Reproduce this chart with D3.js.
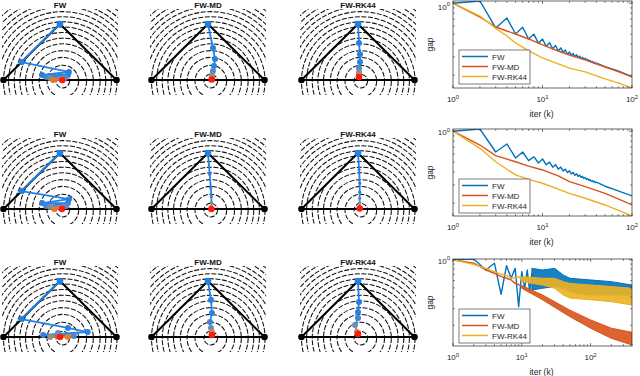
<!DOCTYPE html>
<html><head><meta charset="utf-8">
<script src="https://cdn.jsdelivr.net/npm/d3@7"></script>
<style>body{margin:0;background:#fff;} svg{display:block;font-family:"Liberation Sans",Arial,sans-serif;}</style>
</head><body><svg id="c" width="640" height="376"></svg>
<script>
// ---------------- DATA ----------------
const methods = ["FW", "FW-MD", "FW-RK44"];
const methodColors = ["#0072BD", "#D95319", "#EDB120"];

// simplex (triangle) and contour levels (radii, in units of half the base)
const simplexVertices = [[-1, 0], [0, 1], [1, 0]];
const contourCenter = [0.05, -0.02];
const contourLevels = [0.12, 0.28, 0.42, 0.54, 0.66, 0.76, 0.86, 0.96, 1.05, 1.14, 1.23, 1.32, 1.4, 1.49, 1.58, 1.67];

// trajectories (x in [-1,1], y in [0,1]) per row
const trajFW_1 = [[0,1],[-0.684,0.321],[0.158,0.143],[-0.316,0.089],[0.14,0.089],[-0.246,0.054],[0.088,0.036],[-0.175,0.036],[0.035,0.018],[-0.123,0],[0.04,0]];
const trajMD_1 = [[0,1],[0.088,0.571],[0.124,0.375],[0.106,0.25],[0.088,0.16],[0.07,0.09],[0.07,0.036],[0.065,0.01]];
const trajRK_1 = [[0,1],[0.018,0.66],[0.035,0.46],[0.035,0.32],[0.018,0.21],[0.018,0.14],[0.018,0.09],[0.018,0.054]];
const trajFW_2 = [[0,1],[-0.684,0.32],[0.158,0.175],[-0.316,0.105],[0.14,0.105],[-0.246,0.053],[0.105,0.053],[-0.175,0.035],[0,0.018],[-0.105,0],[0.035,0]];
const trajMD_2 = [[0,1],[0.03,0.62],[0.05,0.38],[0.06,0.22],[0.06,0.12],[0.06,0.05],[0.06,0]];
const trajRK_2 = [[0,1],[0.02,0.7],[0.03,0.46],[0.03,0.3],[0.03,0.19],[0.03,0.11],[0.03,0.05],[0.03,0.01]];
const trajFW_3 = [[0,1],[-0.684,0.321],[0.14,0.161],[0.49,0.089],[-0.298,0.036],[0.245,0.018],[-0.035,0.071],[-0.175,0],[0.14,0],[0,0]];
const trajMD_3 = [[0,1],[0.053,0.66],[0.07,0.43],[0.035,0.27],[0.053,0.16],[0.07,0.09],[0.07,0.035]];
const trajRK_3 = [[0,1],[0.018,0.625],[0,0.446],[0,0.34],[-0.053,0.214],[-0.018,0.089],[0,0.054]];

// gap curves, row 1
const iterTopFW = [1,2,3,4,5,6,7,8,9,10,11,12,13,14,15,16,17,18,19,20,21,22,23,24,25,26,27,28,29,30,31,32,33,34,35,36,37,38,39,40,50,70,100];
const gapTopFW = [1.0,1.05,0.575,0.718,0.502,0.584,0.449,0.500,0.409,0.449,0.381,0.413,0.360,0.388,0.343,0.368,0.331,0.351,0.319,0.336,0.310,0.325,0.302,0.315,0.296,0.306,0.289,0.298,0.283,0.292,0.278,0.2845,0.273,0.278,0.268,0.272,0.263,0.267,0.259,0.262,0.242,0.220,0.193];
const iterTopMD = [1,2,3,4,5,7,10,15,20,30,50,70,100];
const gapTopMD = [1.0,0.734,0.587,0.537,0.502,0.449,0.393,0.343,0.314,0.281,0.240,0.217,0.192];
const iterTopRK = [1,2,3,4,5,7,10,15,20,30,50,70,100];
const gapTopRK = [1.0,0.75,0.57,0.48,0.411,0.344,0.294,0.257,0.234,0.215,0.184,0.168,0.150];

// gap curves, row 2
const iterMidFW = [1,2,3,4,5,6,7,8,9,10,11,12,13,14,15,16,17,18,19,20,21,22,23,24,25,26,27,28,29,30,31,32,33,34,35,36,37,38,39,40,50,70,100];
const gapMidFW = [1.0,1.05,0.628,0.751,0.549,0.628,0.517,0.565,0.491,0.537,0.472,0.501,0.447,0.473,0.428,0.448,0.411,0.428,0.396,0.412,0.384,0.398,0.373,0.385,0.364,0.374,0.355,0.364,0.347,0.355,0.340,0.346,0.333,0.339,0.327,0.332,0.321,0.326,0.316,0.320,0.292,0.263,0.235];
const iterMidMD = [1,2,3,5,7,10,15,20,30,50,70,100];
const gapMidMD = [1.0,0.734,0.578,0.505,0.458,0.420,0.368,0.323,0.289,0.249,0.220,0.192];
const iterMidRK = [1,2,3,5,7,10,20,30,50,100];
const gapMidRK = [1.0,0.682,0.505,0.376,0.340,0.312,0.249,0.223,0.192,0.150];

// gap curves, row 3 (early iterations as lines, later oscillation as bands)
const iterBotFW = [1,2,3,4,5,6,7,8,9,10,11,12,13,14];
const gapBotFW = [1.0,1.02,0.778,0.92,0.428,0.865,0.635,0.81,0.315,0.747,0.496,0.778,0.457,0.718];
const bandBotFWk = [14,20,30,40,50,100,200,400];
const bandBotFWhi = [0.81,0.778,0.81,0.688,0.635,0.609,0.584,0.538];
const bandBotFWlo = [0.476,0.496,0.518,0.496,0.457,0.421,0.421,0.421];
const iterBotMD = [1,2,3,4,5,6,7,8,9,10];
const gapBotMD = [1.0,0.92,0.778,0.718,0.66,0.635,0.609,0.56,0.545,0.518];
const bandBotMDk = [10,20,50,100,200,400];
const bandBotMDhi = [0.53,0.421,0.29,0.228,0.186,0.168];
const bandBotMDlo = [0.496,0.374,0.247,0.186,0.145,0.123];
const iterBotRK = [1,2,3,4,5,6,7,8,9,10];
const gapBotRK = [1.0,0.893,0.81,0.747,0.70,0.678,0.645,0.635,0.66,0.62];
const bandBotRKk = [10,20,30,40,50,100,200,400];
const bandBotRKhi = [0.66,0.635,0.635,0.584,0.56,0.538,0.518,0.496];
const bandBotRKlo = [0.584,0.538,0.496,0.421,0.39,0.374,0.357,0.329];

const xTickExps = ["0", "1", "2"];

// ---------------- DRAW ----------------
const svg = d3.select("#c");
const defs = svg.append("defs");
const ink = "#262626";

const trajectories = [
  [trajFW_1, trajMD_1, trajRK_1],
  [trajFW_2, trajMD_2, trajRK_2],
  [trajFW_3, trajMD_3, trajRK_3]
];
const panelCx = [60, 208, 358];
const rowBase = [80, 209, 337];
const iterColor = d3.scaleLinear().domain([0, 0.42, 0.7, 0.88, 1])
  .range(["#1f80e8", "#2a82e0", "#7090b0", "#e8862a", "#ff1a0a"]);

trajectories.forEach((row, r) => {
  row.forEach((traj, c) => {
    const cx = panelCx[c], base = rowBase[r];
    const x = d3.scaleLinear().domain([-1, 1]).range([cx - 56.5, cx + 56.5]);
    const y = d3.scaleLinear().domain([0, 1]).range([base, base - 56]);
    const id = "clip" + r + c;
    defs.append("clipPath").attr("id", id).append("rect")
      .attr("x", cx - 58).attr("y", base - 71).attr("width", 116).attr("height", 86);
    const g = svg.append("g");
    g.append("g").attr("clip-path", "url(#" + id + ")")
      .selectAll("circle").data(contourLevels).join("circle")
      .attr("cx", x(contourCenter[0])).attr("cy", y(contourCenter[1]))
      .attr("r", d => x(d) - x(0))
      .attr("fill", "none").attr("stroke", "#111").attr("stroke-width", 1.05)
      .attr("stroke-dasharray", "5,1.6");
    g.append("path")
      .attr("d", d3.line().x(d => x(d[0])).y(d => y(d[1]))(simplexVertices) + "Z")
      .attr("fill", "none").attr("stroke", "#000").attr("stroke-width", 2);
    g.selectAll("circle.v").data([simplexVertices[0], simplexVertices[2]]).join("circle")
      .attr("class", "v").attr("cx", d => x(d[0])).attr("cy", d => y(d[1])).attr("r", 3.3).attr("fill", "#000");
    const n = traj.length;
    const thin = r === 1 && c > 0;
    for (let i = 0; i < n - 1; i++) {
      g.append("line")
        .attr("x1", x(traj[i][0])).attr("y1", y(traj[i][1]))
        .attr("x2", x(traj[i + 1][0])).attr("y2", y(traj[i + 1][1]))
        .attr("stroke", iterColor(i / (n - 1))).attr("stroke-width", 1.8);
    }
    traj.forEach((p, i) => {
      const rad = (i === 0 || i === n - 1) ? 3.3 : (thin ? 1.6 : 3.0);
      g.append("circle").attr("cx", x(p[0])).attr("cy", y(p[1]))
        .attr("r", rad).attr("fill", iterColor(i / (n - 1)));
    });
    g.append("text").attr("x", x(0)).attr("y", base - 72)
      .attr("text-anchor", "middle").attr("font-size", 8).attr("font-weight", "bold")
      .attr("fill", "#111").text(methods[c]);
  });
});

function powLabel(g, px, py, exp, anchor) {
  const t = g.append("text").attr("x", px).attr("y", py).attr("text-anchor", anchor)
    .attr("font-size", 8).attr("fill", ink);
  t.append("tspan").text("10");
  t.append("tspan").attr("dy", -3.5).attr("font-size", 6).text(exp);
}

function gapPanel(cfg) {
  const L = 453, R = 632, T = cfg.top, B = cfg.bottom;
  const x = d3.scaleLog().domain([1, cfg.kMax]).range([L, R]);
  const y = d3.scaleLog().domain(cfg.yDomain).range([B, T]);
  const g = svg.append("g");
  const id = "gclip" + T;
  defs.append("clipPath").attr("id", id).append("rect")
    .attr("x", L).attr("y", T).attr("width", R - L).attr("height", B - T);
  const pg = g.append("g").attr("clip-path", "url(#" + id + ")");
  const line = d3.line().x(d => x(d[0])).y(d => y(d[1]));
  const area = d3.area().x(d => x(d[0])).y0(d => y(d[2])).y1(d => y(d[1]));
  cfg.series.forEach((s, i) => {
    if (s.band) {
      pg.append("path").attr("d", area(d3.zip(s.band[0], s.band[1], s.band[2])))
        .attr("fill", methodColors[i]).attr("fill-opacity", 0.9)
        .attr("stroke", methodColors[i]).attr("stroke-width", 1);
    }
    pg.append("path").attr("d", line(d3.zip(s.k, s.v)))
      .attr("fill", "none").attr("stroke", methodColors[i]).attr("stroke-width", 1.4)
      .attr("stroke-linejoin", "round");
  });
  g.append("rect").attr("x", L).attr("y", T).attr("width", R - L).attr("height", B - T)
    .attr("fill", "none").attr("stroke", ink).attr("stroke-width", 0.7);
  const xt = x.ticks().filter(d => d <= cfg.kMax);
  xt.forEach(d => {
    const major = Math.abs(Math.log10(d) - Math.round(Math.log10(d))) < 1e-9;
    const len = major ? 3 : 1.8;
    g.append("line").attr("x1", x(d)).attr("x2", x(d)).attr("y1", B).attr("y2", B - len).attr("stroke", ink).attr("stroke-width", 0.6);
    g.append("line").attr("x1", x(d)).attr("x2", x(d)).attr("y1", T).attr("y2", T + len).attr("stroke", ink).attr("stroke-width", 0.6);
  });
  [1, 10, 100].forEach((d, i) => powLabel(g, x(d), B + 14, xTickExps[i], "middle"));
  y.ticks().forEach(d => {
    const major = Math.abs(d - 1) < 1e-9;
    const len = major ? 3 : 1.8;
    g.append("line").attr("x1", L).attr("x2", L + len).attr("y1", y(d)).attr("y2", y(d)).attr("stroke", ink).attr("stroke-width", 0.6);
    g.append("line").attr("x1", R).attr("x2", R - len).attr("y1", y(d)).attr("y2", y(d)).attr("stroke", ink).attr("stroke-width", 0.6);
  });
  powLabel(g, L - 3, Math.max(y(1) + 4, 9.5), "0", "end");
  g.append("text").attr("x", (L + R) / 2 - 1).attr("y", B + 29).attr("text-anchor", "middle")
    .attr("font-size", 8.5).attr("fill", ink).text("iter (k)");
  g.append("text").attr("transform", "translate(433," + ((T + B) / 2) + ") rotate(-90)")
    .attr("text-anchor", "middle").attr("font-size", 8.5).attr("fill", ink).text("gap");
  const lt = cfg.legendTop;
  g.append("rect").attr("x", 459).attr("y", lt).attr("width", 71).attr("height", 34)
    .attr("fill", "#fff").attr("stroke", ink).attr("stroke-width", 0.6);
  methods.forEach((m, i) => {
    const yy = lt + 6.5 + i * 10;
    g.append("line").attr("x1", 462).attr("x2", 488).attr("y1", yy).attr("y2", yy)
      .attr("stroke", methodColors[i]).attr("stroke-width", 1.5);
    g.append("text").attr("x", 492).attr("y", yy + 3).attr("font-size", 8).attr("fill", ink).text(m);
  });
}

gapPanel({ top: 1, bottom: 88, kMax: 100, yDomain: [0.15, 1.05], legendTop: 50,
  series: [ { k: iterTopFW, v: gapTopFW }, { k: iterTopMD, v: gapTopMD }, { k: iterTopRK, v: gapTopRK } ] });
gapPanel({ top: 129, bottom: 216, kMax: 100, yDomain: [0.15, 1.05], legendTop: 179,
  series: [ { k: iterMidFW, v: gapMidFW }, { k: iterMidMD, v: gapMidMD }, { k: iterMidRK, v: gapMidRK } ] });
gapPanel({ top: 259, bottom: 346, kMax: 400, yDomain: [0.12, 1.02], legendTop: 309,
  series: [
    { k: iterBotFW, v: gapBotFW, band: [bandBotFWk, bandBotFWhi, bandBotFWlo] },
    { k: iterBotMD, v: gapBotMD, band: [bandBotMDk, bandBotMDhi, bandBotMDlo] },
    { k: iterBotRK, v: gapBotRK, band: [bandBotRKk, bandBotRKhi, bandBotRKlo] } ] });
</script></body></html>
